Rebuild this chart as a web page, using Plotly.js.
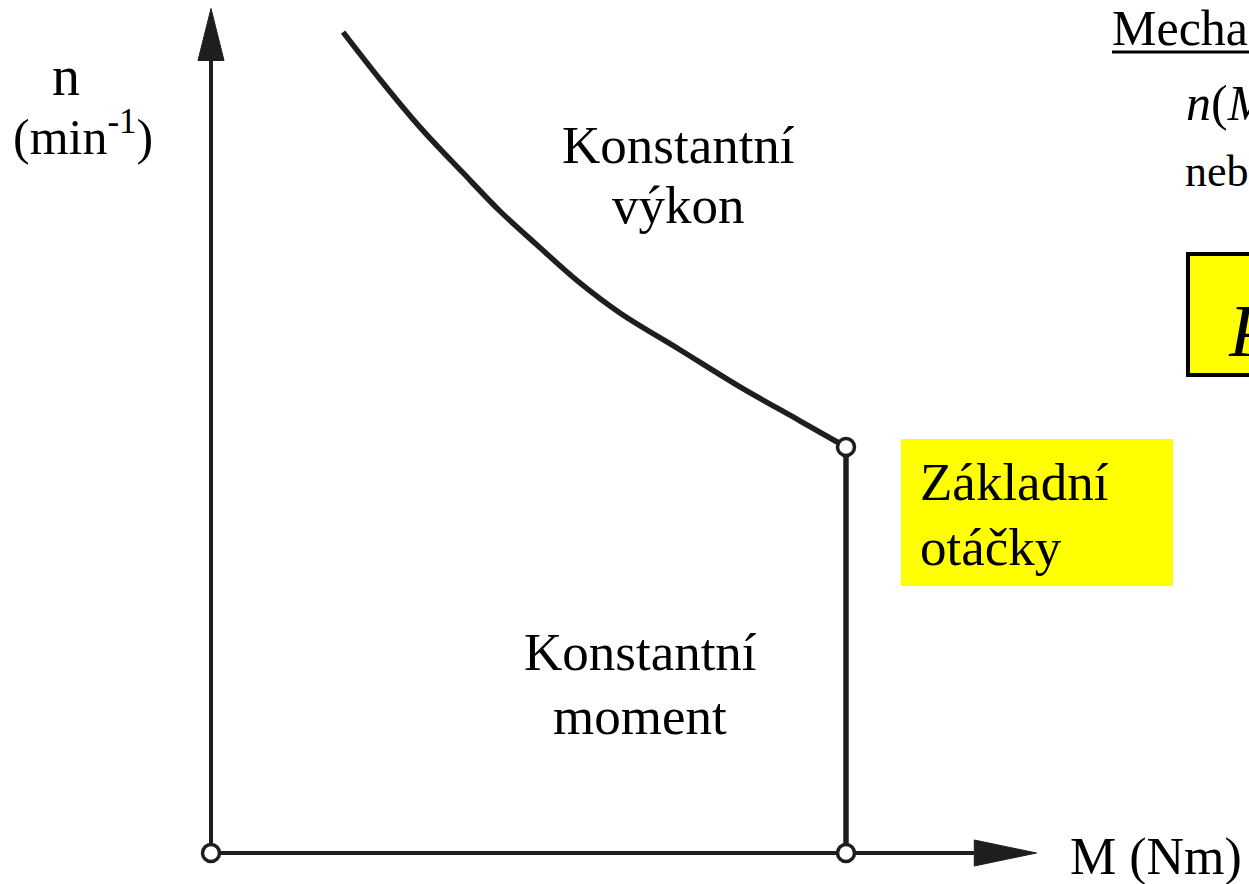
<!DOCTYPE html>
<html>
<head>
<meta charset="utf-8">
<script src="https://cdn.plot.ly/plotly-3.0.1.min.js"></script>
<style>html,body{margin:0;padding:0;background:#fff;}#chart{width:1249px;height:884px;}</style>
</head>
<body>
<div id="chart"></div>
<script>
// Constant-power curve (M relative to base torque, n relative to base speed)
var curveM = [0.208, 0.266, 0.329, 0.397, 0.455, 0.513, 0.581, 0.644, 0.739, 0.833, 0.928, 1.000];
var curveN = [2.022, 1.906, 1.788, 1.675, 1.581, 1.498, 1.404, 1.330, 1.239, 1.148, 1.064, 1.000];
// Constant-torque segment
var torqueM = [1.00, 1.00];
var torqueN = [1.00, 0.00];
// Marked points: origin, base torque on axis, base point
var pointM = [0.00, 1.00, 1.00];
var pointN = [0.00, 0.00, 1.00];
// Axis extents (arrow tips)
var axisMaxM = 1.30;
var axisMaxN = 2.08;

var W = 1249, H = 884;
function px(x){ return x / W; }
function py(y){ return 1 - y / H; }

var ink = '#1e1e1e';
var serif = 'Liberation Serif, Times New Roman, serif';

// arrowhead sizes
var headLenM = 0.098, headHalfN = 0.032;
var headLenN = 0.128, headHalfM = 0.0205;

var traces = [
  {x: [0, axisMaxM - headLenM], y: [0, 0], mode: 'lines', line: {color: ink, width: 4}, hoverinfo: 'skip'},
  {x: [0, 0], y: [0, axisMaxN - headLenN], mode: 'lines', line: {color: ink, width: 4}, hoverinfo: 'skip'},
  {x: [axisMaxM - headLenM, axisMaxM, axisMaxM - headLenM, axisMaxM - headLenM],
   y: [headHalfN, 0, -headHalfN, headHalfN], mode: 'lines', fill: 'toself',
   fillcolor: ink, line: {color: ink, width: 1}, hoverinfo: 'skip'},
  {x: [-headHalfM, 0, headHalfM, -headHalfM],
   y: [axisMaxN - headLenN, axisMaxN, axisMaxN - headLenN, axisMaxN - headLenN], mode: 'lines', fill: 'toself',
   fillcolor: ink, line: {color: ink, width: 1}, hoverinfo: 'skip'},
  {x: curveM, y: curveN, mode: 'lines', line: {color: ink, width: 5.5, shape: 'spline', smoothing: 1}, hoverinfo: 'skip'},
  {x: torqueM, y: torqueN, mode: 'lines', line: {color: ink, width: 5.5}, hoverinfo: 'skip'},
  {x: pointM, y: pointN, mode: 'markers',
   marker: {size: 17, color: '#ffffff', line: {color: ink, width: 3.5}}, hoverinfo: 'skip'}
];

var ann = function(text, x, y, size, xanchor){
  return {text: text, xref: 'paper', yref: 'paper', x: px(x), y: py(y),
    xanchor: xanchor || 'center', yanchor: 'middle', showarrow: false,
    font: {family: serif, size: size, color: '#000'}};
};

var layout = {
  width: W, height: H,
  margin: {l: 0, r: 0, t: 0, b: 0},
  paper_bgcolor: '#fff', plot_bgcolor: '#fff',
  showlegend: false,
  xaxis: {range: [-211/635, 1038/635], visible: false, fixedrange: true},
  yaxis: {range: [-31/406, 853/406], visible: false, fixedrange: true},
  shapes: [
    {type: 'rect', xref: 'paper', yref: 'paper', x0: px(901), x1: px(1173), y0: py(586), y1: py(439),
     fillcolor: '#ffff00', line: {width: 0}, layer: 'below'},
    {type: 'rect', xref: 'paper', yref: 'paper', x0: px(1188), x1: px(1262), y0: py(375), y1: py(254),
     fillcolor: '#ffff00', line: {color: '#000', width: 4}, layer: 'below'},
    {type: 'line', xref: 'paper', yref: 'paper', x0: px(1112), x1: px(1252), y0: py(52), y1: py(52),
     line: {color: '#000', width: 3}}
  ],
  annotations: [
    ann('n', 66, 76, 56),
    ann('(min<sup>-1</sup>)', 83, 133, 50),
    ann('Konstantní', 678, 145, 53),
    ann('výkon', 678, 205, 53),
    ann('Konstantní', 640, 652, 53),
    ann('moment', 640, 716, 53),
    ann('Základní', 918, 482, 53, 'left'),
    ann('otáčky', 918, 547, 53, 'left'),
    ann('M (Nm)', 1068, 857, 52, 'left'),
    ann('Mecha', 1110, 28, 50, 'left'),
    ann('<i>n</i>(<i>M</i>', 1184, 103, 50, 'left'),
    ann('neb', 1183, 172, 44, 'left'),
    ann('<i>P</i>', 1226, 330, 75, 'left')
  ]
};

Plotly.newPlot('chart', traces, layout, {staticPlot: true, displayModeBar: false});
</script>
</body>
</html>
